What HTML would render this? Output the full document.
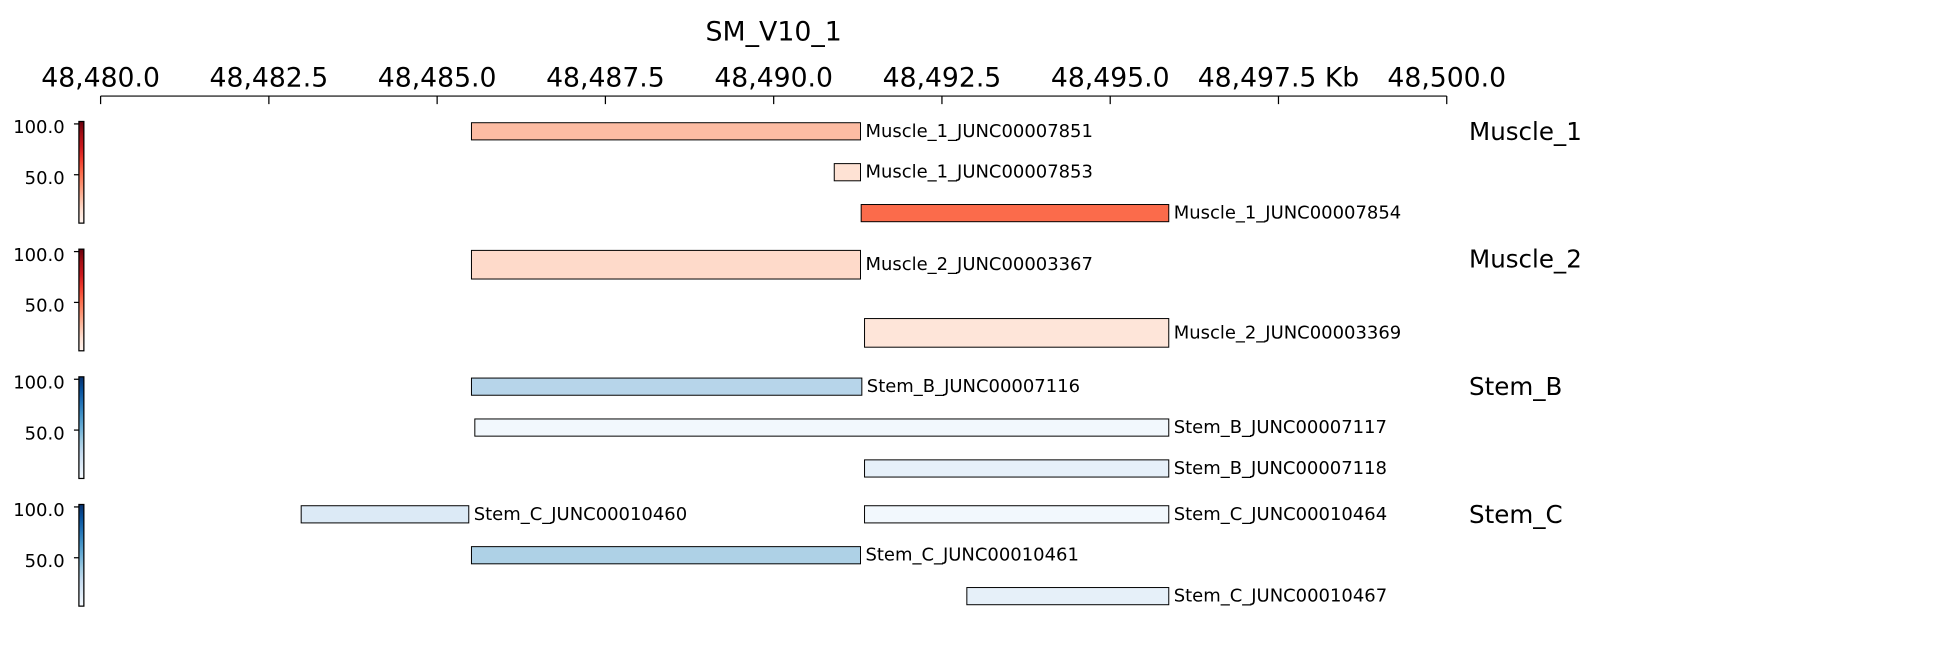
<!DOCTYPE html>
<html><head><meta charset="utf-8"><style>
html,body{margin:0;padding:0;background:#fff;width:1944px;height:652px;overflow:hidden}
svg{display:block}
text{font-family:"DejaVu Sans","Liberation Sans",sans-serif;fill:#000}
</style></head><body>
<svg id="chart" width="1944" height="652" viewBox="0 0 1568 526" xmlns="http://www.w3.org/2000/svg">
<text x="624" y="26" font-size="21.6" text-anchor="middle" dominant-baseline="central">SM_V10_1</text>
<g id="axis"></g>
<g id="tracks"></g>
</svg>
<script>
const tickValues=[48480,48482.5,48485,48487.5,48490,48492.5,48495,48497.5,48500];
const tickLabels=["48,480.0","48,482.5","48,485.0","48,487.5","48,490.0","48,492.5","48,495.0","48,497.5 Kb","48,500.0"];
const trackNames=["Muscle_1","Muscle_2","Stem_B","Stem_C"];
const trackCmaps=["reds","reds","blues","blues"];
const featNames=["Muscle_1_JUNC00007851","Muscle_1_JUNC00007853","Muscle_1_JUNC00007854","Muscle_2_JUNC00003367","Muscle_2_JUNC00003369","Stem_B_JUNC00007116","Stem_B_JUNC00007117","Stem_B_JUNC00007118","Stem_C_JUNC00010460","Stem_C_JUNC00010464","Stem_C_JUNC00010461","Stem_C_JUNC00010467"];
const featTrack=[0,0,0,1,1,2,2,2,3,3,3,3];
const featRow=[0,1,2,0,1,0,1,2,0,0,1,2];
const featStart=[48485.51,48490.9,48491.3,48485.51,48491.35,48485.51,48485.56,48491.35,48482.98,48491.35,48485.51,48492.87];
const featEnd=[48491.29,48491.29,48495.87,48491.29,48495.87,48491.31,48495.87,48495.87,48485.47,48495.87,48491.29,48495.87];
const featValue=[27,14,52,17,12,32,5,11,16,5,35,11];
const cbarTicks=[100,50];
const vmin=2.4,vmax=102.4;

const NS="http://www.w3.org/2000/svg";
const X0=81,X1=1167,D0=48480,D1=48500;
const xs=v=>X0+(v-D0)/(D1-D0)*(X1-X0);
const reds=["#fff5f0","#fee0d2","#fcbba1","#fc9272","#fb6a4a","#ef3b2c","#cb181d","#a50f15","#67000d"];
const blues=["#f7fbff","#deebf7","#c6dbef","#9ecae1","#6baed6","#4292c6","#2171b5","#08519c","#08306b"];
function hex(c){return [1,3,5].map(i=>parseInt(c.substr(i,2),16));}
function cmap(stops,t){t=Math.max(0,Math.min(1,t));const p=t*(stops.length-1);const i=Math.min(stops.length-2,Math.floor(p));const f=p-i;const a=hex(stops[i]),b=hex(stops[i+1]);return "rgb("+a.map((v,k)=>Math.round(v+(b[k]-v)*f)).join(",")+")";}
function mk(tag,attrs,parent){const e=document.createElementNS(NS,tag);for(const k in attrs)e.setAttribute(k,attrs[k]);parent.appendChild(e);return e;}

const axis=document.getElementById('axis');
const line=mk('line',{x1:X0,x2:X1,y1:77.5,y2:77.5,stroke:'#000','stroke-width':1},axis);


tickValues.forEach((v,i)=>{
  const t=mk('line',{x1:xs(v),x2:xs(v),y1:77.5,y2:84,stroke:'#000','stroke-width':1},axis);
  
  
  const l=mk('text',{x:xs(v),y:63,'font-size':21.5,'text-anchor':'middle','dominant-baseline':'central'},axis);
  l.textContent=tickLabels[i];
  
  
});

const tracks=document.getElementById('tracks');
const TOP=98,TH=103,CBH=82;
const defs=mk('defs',{},tracks);
['reds','blues'].forEach(n=>{
  const g=mk('linearGradient',{id:'g-'+n,x1:0,y1:1,x2:0,y2:0},defs);
  const st=n==='reds'?reds:blues;
  st.forEach((c,i)=>mk('stop',{offset:i/(st.length-1),'stop-color':c},g));
});
trackNames.forEach((name,ti)=>{
  const top=TOP+ti*TH;
  const g=mk('g',{},tracks);
  
  
  const cb=mk('rect',{x:63.5,y:top,width:4,height:CBH,fill:'url(#g-'+trackCmaps[ti]+')',stroke:'#000','stroke-width':1},g);
  
  
  const cy=v=>top+CBH-(v-vmin)/(vmax-vmin)*CBH;
  cbarTicks.forEach(v=>{
    const tk=mk('line',{x1:59.5,x2:63.5,y1:cy(v),y2:cy(v),stroke:'#000','stroke-width':1},g);
    
    
    const tl=mk('text',{x:52,y:cy(v)+3,'font-size':14.5,'text-anchor':'end','dominant-baseline':'central'},g);
    tl.textContent=v.toFixed(1);
    
    
  });
  const nl=mk('text',{x:1185,y:top+8,'font-size':19.8,'dominant-baseline':'central'},g);
  nl.textContent=name;
  
  
  const nrows=Math.max(...featRow.filter((r,i)=>featTrack[i]===ti))+1;
  const s=99-22*nrows, h=0.42*s;
  featNames.forEach((fn,fi)=>{
    if(featTrack[fi]!==ti)return;
    const yc=top+h/2+1+featRow[fi]*s;
    const x1=xs(featStart[fi]),x2=xs(featEnd[fi]);
    const r=mk('rect',{x:x1,y:yc-h/2,width:x2-x1,height:h,fill:cmap(trackCmaps[ti]==='reds'?reds:blues,(featValue[fi]-vmin)/(vmax-vmin)),stroke:'#000','stroke-width':0.8},g);
    
    
    const t=mk('text',{x:x2+4,y:yc,'font-size':14.5,'dominant-baseline':'central'},g);
    t.textContent=fn;
    
    
  });
});
</script>
</body></html>
